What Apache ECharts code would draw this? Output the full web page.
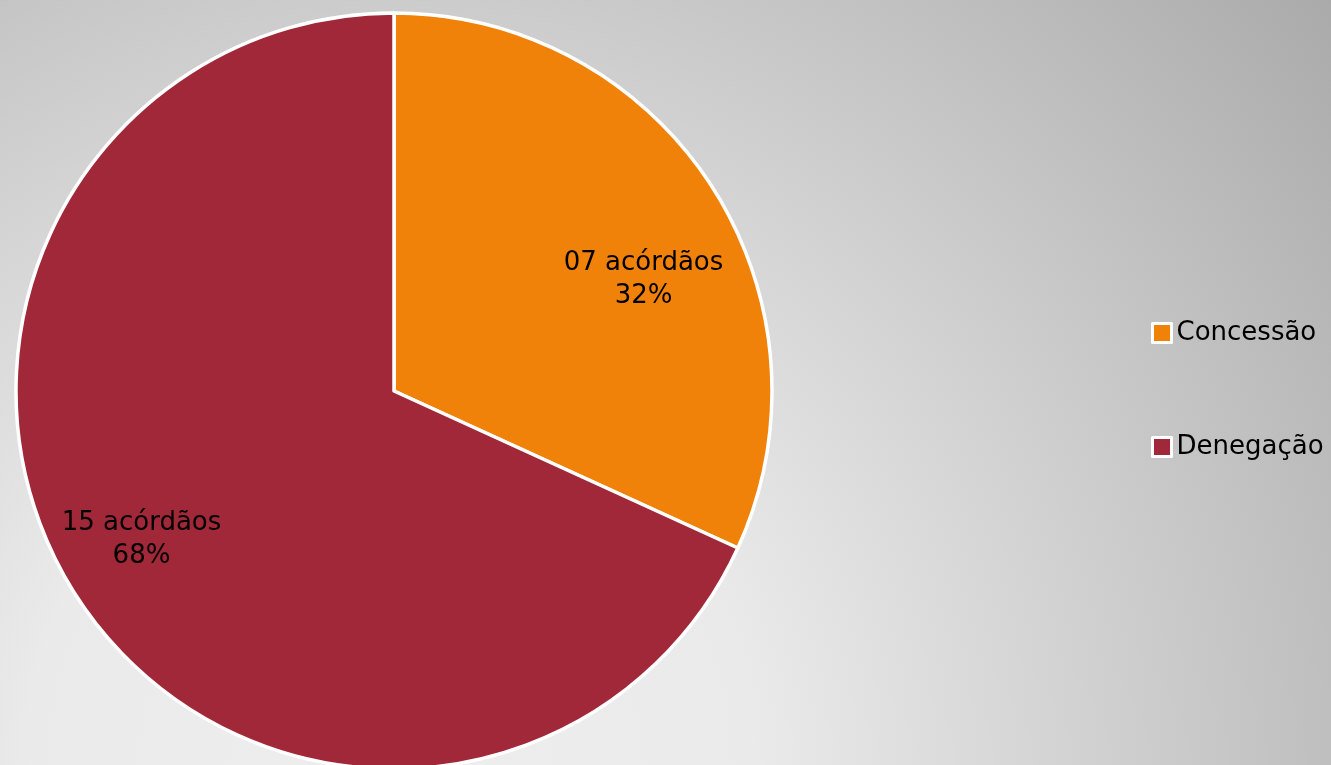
<!DOCTYPE html>
<html>
<head>
<meta charset="utf-8">
<script src="https://cdn.jsdelivr.net/npm/echarts@6/dist/echarts.min.js"></script>
<style>
  html, body { margin: 0; padding: 0; }
  #chart { width: 1331px; height: 765px; }
</style>
</head>
<body>
<div id="chart"></div>
<script>
// Decisões: concessão x denegação
const categories = ['Concessão', 'Denegação'];
const counts = [7, 15];
const unitLabel = 'acórdãos';
const sliceColors = ['#F0820A', '#A02838'];

// label nudges away from the default mid-radius position (px)
const labelShift = [[88, -7], [-91, 45]];

const chart = echarts.init(document.getElementById('chart'), null, { renderer: 'canvas' });
const W = chart.getWidth();
const H = chart.getHeight();

const pieData = categories.map((name, i) => ({
  name: name,
  value: counts[i],
  itemStyle: { color: sliceColors[i] }
}));

const option = {
  animation: false,
  graphic: [{
    // soft grey backdrop, lightest near the bottom-left
    type: 'rect',
    z: -10,
    silent: true,
    shape: { x: 0, y: 0, width: W, height: H },
    style: {
      fill: {
        type: 'radial',
        x: 390 / W, y: 1, r: 1213 / H,
        colorStops: [
          { offset: 0, color: '#eeeeee' },
          { offset: 0.3, color: '#eaeaea' },
          { offset: 1, color: '#aaaaaa' }
        ]
      }
    }
  }],
  legend: {
    orient: 'vertical',
    left: 1151,
    top: 320,
    padding: 0,
    itemWidth: 19,
    itemHeight: 19,
    itemGap: 88,
    icon: 'rect',
    itemStyle: { borderColor: '#ffffff', borderWidth: 3 },
    textStyle: {
      fontFamily: 'DejaVu Sans',
      fontSize: 26,
      color: '#000000'
    },
    data: categories
  },
  series: [{
    type: 'pie',
    center: [394, 391],
    radius: 378,
    startAngle: 90,
    clockwise: true,
    avoidLabelOverlap: false,
    itemStyle: { borderColor: '#ffffff', borderWidth: 3.5 },
    label: {
      show: true,
      position: 'inside',
      fontFamily: 'DejaVu Sans',
      fontSize: 26,
      lineHeight: 33,
      color: '#000000',
      align: 'center',
      formatter: (p) => String(p.value).padStart(2, '0') + ' ' + unitLabel + '\n' + Math.round(p.percent) + '%'
    },
    labelLayout: (p) => ({ dx: labelShift[p.dataIndex][0], dy: labelShift[p.dataIndex][1] }),
    labelLine: { show: false },
    emphasis: { disabled: true },
    data: pieData
  }]
};

chart.setOption(option);
</script>
</body>
</html>
